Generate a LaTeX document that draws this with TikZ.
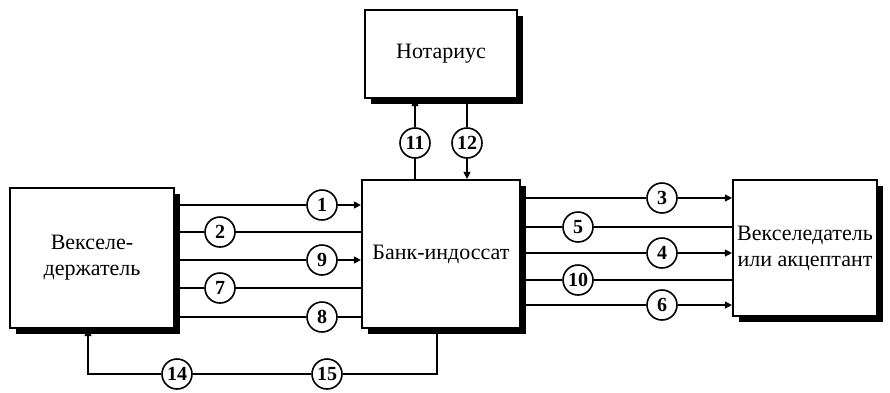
\documentclass[tikz,border=0pt]{standalone}
\usepackage{fontspec}
\setmainfont{Liberation Serif}
\usepackage{tikz}
\usetikzlibrary{arrows.meta, positioning, shadows}

\begin{document}
\begin{tikzpicture}[x=1pt, y=-1pt,
    party/.style={rectangle, draw, line width=2.2pt, fill=white, align=center,
        font=\fontsize{22}{26}\selectfont,
        drop shadow={shadow xshift=6pt, shadow yshift=-6pt, fill=black, opacity=1}},
    num/.style={circle, draw, line width=1.6pt, fill=white, inner sep=0pt,
        minimum size=30pt, font=\fontsize{20}{20}\selectfont\bfseries},
    flow/.style={line width=1.2pt},
    arrow/.style={flow, -{Triangle[length=7pt, width=7pt]}}
]
\useasboundingbox (0,0) rectangle (890,392);

% Parties
\node[party, minimum width=164pt, minimum height=140pt] (holder) at (92,258) {Векселе-\\держатель};
\node[party, minimum width=158pt, minimum height=148pt] (bank) at (441,254) {Банк-индоссат};
\node[party, minimum width=152pt, minimum height=88pt] (notary) at (441,54) {Нотариус};
\node[party, minimum width=144pt, minimum height=136pt] (drawer) at (805,248) {Векселедатель\\или акцептант};

% Numbered steps
\node[num] (n1) at (322,205) {1};
\node[num] (n2) at (220,232) {2};
\node[num] (n9) at (322,260) {9};
\node[num] (n7) at (220,288) {7};
\node[num] (n8) at (322,317) {8};
\node[num] (n3) at (662,198) {3};
\node[num] (n5) at (578,227) {5};
\node[num] (n4) at (662,253) {4};
\node[num] (n10) at (578,280) {10};
\node[num] (n6) at (662,305) {6};
\node[num] (n11) at (415,143) {11};
\node[num] (n12) at (467,143) {12};
\node[num] (n14) at (177,374) {14};
\node[num] (n15) at (327,374) {15};

% Holder -- bank
\draw[arrow] (holder.east |- n1) -- (n1) -- (bank.west |- n1);
\draw[flow] (holder.east |- n2) -- (n2) -- (bank.west |- n2);
\draw[arrow] (holder.east |- n9) -- (n9) -- (bank.west |- n9);
\draw[flow] (holder.east |- n7) -- (n7) -- (bank.west |- n7);
\draw[flow] (holder.east |- n8) -- (n8) -- (bank.west |- n8);

% Bank -- drawer
\draw[arrow] (bank.east |- n3) -- (n3) -- (drawer.west |- n3);
\draw[flow] (bank.east |- n5) -- (n5) -- (drawer.west |- n5);
\draw[arrow] (bank.east |- n4) -- (n4) -- (drawer.west |- n4);
\draw[flow] (bank.east |- n10) -- (n10) -- (drawer.west |- n10);
\draw[arrow] (bank.east |- n6) -- (n6) -- (drawer.west |- n6);

% Bank -- notary
\draw[arrow] (bank.north -| n11) -- (n11) -- (notary.south -| n11);
\draw[arrow] (notary.south -| n12) -- (n12) -- (bank.north -| n12);

% Back to holder
\coordinate (turnB) at (437,374);
\coordinate (turnH) at (88,374);
\draw[flow] (bank.south -| turnB) -- (turnB) -- (n15) -- (n14);
\draw[arrow] (n14) -- (turnH) -- (holder.south -| turnH);

\end{tikzpicture}
\end{document}
